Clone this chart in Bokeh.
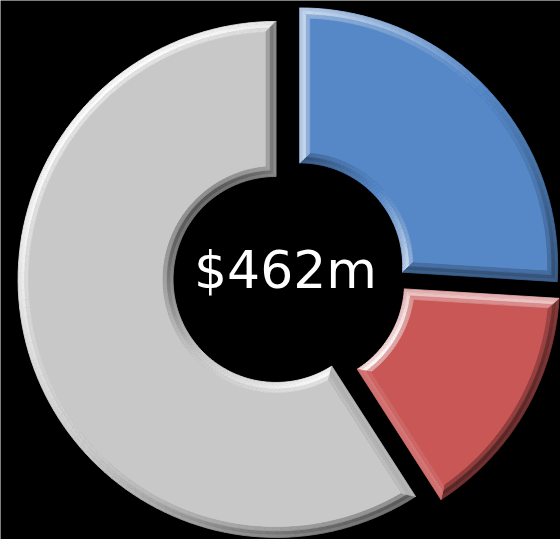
import numpy as np
from bokeh.plotting import figure
from bokeh.models import Range1d
from bokeh.core.properties import value
from bokeh.embed import file_html
from bokeh.resources import INLINE

# ---- data ----
categories = ["Segment A", "Segment B", "Segment C"]
values = [120, 69, 273]
colors = ["#5688C8", "#C95756", "#C8C8C8"]
total = sum(values)
center_label = "$%dm" % total

# ---- layout constants (pixels) ----
W, H = 560, 539
CX, CY = 289.0, 264.0      # donut centre (data units == pixels, y up)
R_OUT, R_IN = 258.0, 103.0
EXPLODE = 14.0
BEVEL = 10.0
LAYERS = [0.8, 1.0, 0.5]   # shading strength from edge inwards
LIGHT = np.array([-0.7, 0.72])
LIGHT = LIGHT / np.linalg.norm(LIGHT)

p = figure(width=W, height=H, x_range=Range1d(0, W), y_range=Range1d(0, H),
           output_backend="svg", toolbar_location=None,
           x_axis_location=None, y_axis_location=None,
           background_fill_color="black", border_fill_color="black",
           outline_line_color=None, min_border=0)
p.grid.visible = False


def hex2rgb(h):
    return np.array([int(h[i:i + 2], 16) for i in (1, 3, 5)], dtype=float)


def shade(base, normal_angle, f, up=0.95, down=0.55):
    rgb = hex2rgb(base)
    s = (np.cos(normal_angle) * LIGHT[0] + np.sin(normal_angle) * LIGHT[1]) * f
    if s > 0:
        rgb = rgb + (255 - rgb) * s * up
    else:
        rgb = rgb * (1 + s * down)
    rgb = np.clip(rgb, 0, 255).astype(int)
    return "#%02x%02x%02x" % tuple(rgb)


def pt(cx, cy, rad, t):
    return cx + rad * np.cos(t), cy + rad * np.sin(t)


xs, ys, fills = [], [], []


def add_poly(pts, col):
    xs.append([q[0] for q in pts])
    ys.append([q[1] for q in pts])
    fills.append(col)


depths = np.linspace(0, BEVEL, len(LAYERS) + 1)

start = np.pi / 2
for val, col in zip(values, colors):
    sweep = 2 * np.pi * val / total
    a1 = start
    a0 = start - sweep
    start = a0
    mid = (a0 + a1) / 2
    cx = CX + EXPLODE * np.cos(mid)
    cy = CY + EXPLODE * np.sin(mid)
    n = max(8, int(np.degrees(sweep) / 2))
    u = np.linspace(0, 1, n + 1)

    def ins_o(e):
        return np.arcsin(e / (R_OUT - e)) if e > 0 else 0.0

    def ins_i(e):
        return np.arcsin(e / (R_IN + e)) if e > 0 else 0.0

    # face
    do, di = ins_o(BEVEL), ins_i(BEVEL)
    t_face_o = np.linspace(a0 + do, a1 - do, n + 1)
    t_face_i = np.linspace(a1 - di, a0 + di, n + 1)
    face = [pt(cx, cy, R_OUT - BEVEL, t) for t in t_face_o] + \
           [pt(cx, cy, R_IN + BEVEL, t) for t in t_face_i]
    add_poly(face, col)

    for j, f in enumerate(LAYERS):
        e1, e2 = depths[j], depths[j + 1]
        # outer band
        o1, o2 = ins_o(e1), ins_o(e2)
        t1 = (a0 + o1) + u * ((a1 - o1) - (a0 + o1))
        t2 = (a0 + o2) + u * ((a1 - o2) - (a0 + o2))
        for k in range(n):
            q = [pt(cx, cy, R_OUT - e1, t1[k]), pt(cx, cy, R_OUT - e1, t1[k + 1]),
                 pt(cx, cy, R_OUT - e2, t2[k + 1]), pt(cx, cy, R_OUT - e2, t2[k])]
            add_poly(q, shade(col, (t1[k] + t1[k + 1]) / 2, f))
        # inner band
        i1, i2 = ins_i(e1), ins_i(e2)
        t1 = (a0 + i1) + u * ((a1 - i1) - (a0 + i1))
        t2 = (a0 + i2) + u * ((a1 - i2) - (a0 + i2))
        for k in range(n):
            q = [pt(cx, cy, R_IN + e1, t1[k]), pt(cx, cy, R_IN + e1, t1[k + 1]),
                 pt(cx, cy, R_IN + e2, t2[k + 1]), pt(cx, cy, R_IN + e2, t2[k])]
            add_poly(q, shade(col, (t1[k] + t1[k + 1]) / 2 + np.pi, f))
        # radial edges
        for a, sgn, nrm in ((a0, 1, a0 - np.pi / 2), (a1, -1, a1 + np.pi / 2)):
            q = [pt(cx, cy, R_OUT - e1, a + sgn * o1), pt(cx, cy, R_IN + e1, a + sgn * i1),
                 pt(cx, cy, R_IN + e2, a + sgn * i2), pt(cx, cy, R_OUT - e2, a + sgn * o2)]
            add_poly(q, shade(col, nrm, f))

p.patches(xs=xs, ys=ys, fill_color=fills, line_color=fills, line_width=0.8)

p.text(x=[CX - 4], y=[CY + 6], text=[center_label], text_color="white",
       text_font=value("DejaVu Sans"), text_font_size="52px",
       text_align="center", text_baseline="middle")

open("out.html", "w").write(file_html(p, INLINE))
